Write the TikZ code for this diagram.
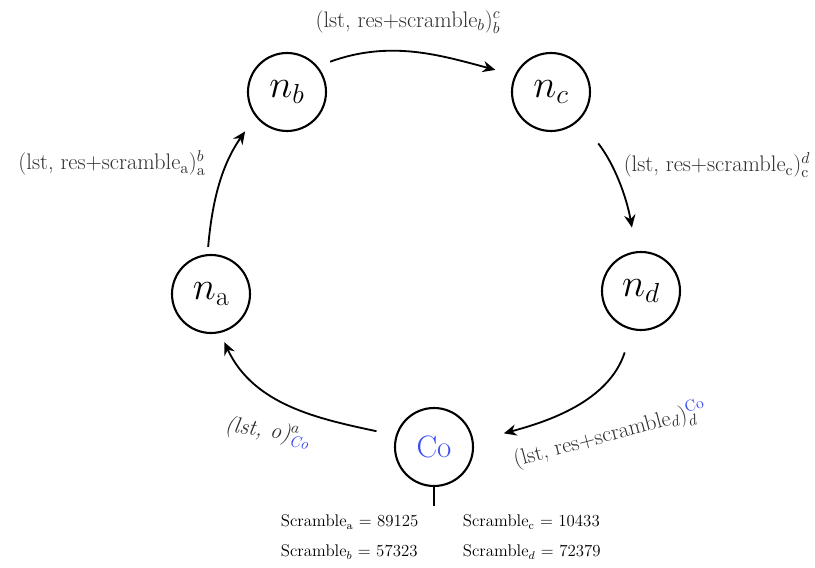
\RequirePackage{fix-cm}
\documentclass[tikz,border=0pt]{standalone}
\usepackage{amsmath}
\usepackage{xcolor}
\usepackage{tikz}
\usetikzlibrary{arrows.meta,positioning}
\definecolor{COblue}{HTML}{3A4DF2}
\definecolor{LBLgray}{HTML}{2E2E2E}

\tikzset{
  party/.style={circle, draw, line width=1.5pt, minimum size=1.95cm, inner sep=0pt,
    font=\fontsize{28}{30}\selectfont},
  hop/.style={-{Stealth[length=9pt,width=8pt]}, line width=1.3pt},
  msg/.style={font=\fontsize{16}{18}\selectfont, LBLgray},
  tbl/.style={font=\fontsize{12}{14}\selectfont, anchor=west},
}

\begin{document}
\begin{tikzpicture}
  \useasboundingbox (0,0) rectangle (20.375,14.2);

  % parties round the ring
  \node[party] (na) at (5.275,6.85) {$n_\mathrm{a}$};
  \node[party] (nb) at (7.175,11.9) {$n_b$};
  \node[party] (nc) at (13.775,11.9) {$n_c$};
  \node[party] (nd) at (16.025,6.925) {$n_d$};
  \node[party, text=COblue, font=\fontsize{22}{24}\selectfont] (co) at (10.85,3.025) {Co};

  % hops
  \draw[hop, shorten <=0.33cm, shorten >=0.5cm] (nb.40) to[out=20,in=165] (nc.155);
  \draw[hop, shorten <=0.75cm, shorten >=0.6cm] (nc.-44) to[out=-52,in=100] (nd.97);
  \draw[hop, shorten <=0.59cm, shorten >=0.78cm] (nd.-103) to[out=-108,in=15] (co.8);
  \draw[hop, shorten <=0.49cm, shorten >=0.25cm] (co.163) to[out=168,in=-65] (na.-77);
  \draw[hop, shorten <=0.18cm, shorten >=0.45cm] (na.95) to[out=85,in=235] (nb.218);

  % messages
  \node[msg] (mbc) at (10.2,13.65) {(lst, res+scramble$_b$)$^c_b$};
  \node[msg] (mcd) at (17.925,10.075) {(lst, res+scramble$_\mathrm{c}$)$^d_\mathrm{c}$};
  \node[msg, rotate=15] (mdco) at (15.25,3.325)
    {(lst, res+scramble$_d$)$^{\textcolor{COblue}{\mathrm{Co}}}_d$};
  \node[msg, rotate=-8, font=\fontsize{16}{18}\selectfont\itshape] (mcoa) at (6.7,3.4)
    {(lst, o)$^a_{\textcolor{COblue}{\mathit{Co}}}$};
  \node[msg] (mab) at (2.8,10.125) {(lst, res+scramble$_\mathrm{a}$)$^b_\mathrm{a}$};

  % scramble table
  \draw[line width=1.3pt] (co.south) -- ++(0,-0.48);
  \node[tbl] (sa) at (6.9,1.15) {Scramble$_\mathrm{a}$ = 89125};
  \node[tbl] (sb) at (6.9,0.4) {Scramble$_b$ = 57323};
  \node[tbl] (sc) at (11.45,1.15) {Scramble$_\mathrm{c}$ = 10433};
  \node[tbl] (sd) at (11.45,0.4) {Scramble$_d$ = 72379};
\end{tikzpicture}
\end{document}
